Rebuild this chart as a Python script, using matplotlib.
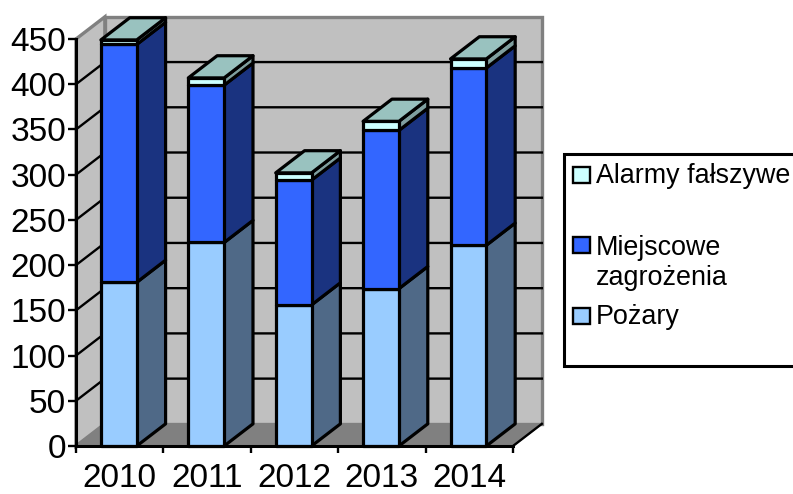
import matplotlib
matplotlib.use('Agg')
import matplotlib.pyplot as plt
from matplotlib.patches import Rectangle

plt.rcParams['font.family'] = ['Liberation Sans', 'DejaVu Sans']

years = ['2010', '2011', '2012', '2013', '2014']
pozary = [181, 225, 156, 174, 222]
miejscowe = [263, 174, 138, 175, 196]
alarmy = [5, 8, 8, 10, 10]
y_ticks = [0, 50, 100, 150, 200, 250, 300, 350, 400, 450]

front_colors = ['#99CCFF', '#3366FF', '#CCFFFF']
side_colors = ['#4F6987', '#1A3380', '#7F9F9F']
top_color = '#99C2BF'

W, H = 793, 494
fig = plt.figure(figsize=(W / 100, H / 100), dpi=100)
ax = fig.add_axes([76 / W, (H - 446) / H, 437 / W, 407 / H])
ax.set_xlim(0, 5)
ax.set_ylim(0, 450)
ax.patch.set_visible(False)

# fake 3d depth, in data units
ddx, ddy = 0.33, 24.5
bar_w = 0.41
bar_shift = -0.01
n = len(years)

# walls and floor
ax.fill([ddx, n + ddx, n + ddx, ddx], [ddy, ddy, 450 + ddy, 450 + ddy],
        fc='#C0C0C0', ec='#808080', lw=2.4, clip_on=False, zorder=1)
ax.fill([0, ddx, ddx, 0], [0, ddy, 450 + ddy, 450], fc='#C0C0C0', ec='#808080',
        lw=2.4, clip_on=False, zorder=1)
ax.fill([0, n, n + ddx, ddx], [0, 0, ddy, ddy], fc='#808080', ec='#808080',
        lw=1, clip_on=False, zorder=1)
ax.plot([n, n + ddx], [0, ddy], color='black', lw=1.7, clip_on=False, zorder=1.5)

# gridlines go along the left wall then the back wall
for v in y_ticks[1:-1]:
    ax.plot([0, ddx, n + ddx], [v, v + ddy, v + ddy], color='black', lw=1.7,
            clip_on=False, zorder=2, solid_joinstyle='miter')

# bars, left to right and bottom to top
for i in range(n):
    x0 = i + (1 - bar_w) / 2 + bar_shift
    x1 = x0 + bar_w
    base = 0
    series = [pozary[i], miejscowe[i], alarmy[i]]
    for j, val in enumerate(series):
        top = base + val
        ax.fill([x1, x1 + ddx, x1 + ddx, x1], [base, base + ddy, top + ddy, top],
                fc=side_colors[j], ec='black', lw=2.3, clip_on=False, zorder=3,
                joinstyle='round')
        ax.fill([x0, x1, x1, x0], [base, base, top, top], fc=front_colors[j],
                ec='black', lw=2.3, clip_on=False, zorder=3, joinstyle='round')
        base = top
    ax.fill([x0, x1, x1 + ddx, x0 + ddx], [base, base, base + ddy, base + ddy],
            fc=top_color, ec='black', lw=2.3, clip_on=False, zorder=3,
            joinstyle='round')

for s in ['top', 'right']:
    ax.spines[s].set_visible(False)
for s in ['left', 'bottom']:
    ax.spines[s].set_linewidth(2.2)
    ax.spines[s].set_zorder(4)

ax.set_yticks(y_ticks)
ax.tick_params(axis='y', labelsize=24, length=6, width=1.7, pad=1)
ax.set_xticks(range(n + 1))
ax.set_xticklabels([])
ax.tick_params(axis='x', which='major', length=5, width=1.7)
ax.set_xticks([i + 0.5 for i in range(n)], minor=True)
ax.set_xticklabels(years, minor=True, fontsize=24)
ax.tick_params(axis='x', which='minor', length=0, pad=12)


def fx(px):
    return px / W


def fy(py):
    return (H - py) / H


# legend box runs off the right edge of the picture
fig.add_artist(Rectangle((fx(564), fy(366)), fx(240), 212 / H, fc='white',
                         ec='black', lw=2.2, transform=fig.transFigure))
legend_rows = [
    ('Alarmy fałszywe', front_colors[2], 167, [183]),
    ('Miejscowe', front_colors[1], 237, [255]),
    ('Pożary', front_colors[0], 308, [324]),
]
for label, color, sw_top, baselines in legend_rows:
    fig.add_artist(Rectangle((fx(573), fy(sw_top + 16)), 17 / W, 16 / H, fc=color,
                             ec='black', lw=1.7, transform=fig.transFigure))
    fig.text(fx(596), fy(baselines[0]), label, fontsize=19.4, va='baseline', ha='left')
fig.text(fx(596), fy(285), 'zagrożenia', fontsize=19.4, va='baseline', ha='left')

fig.savefig('out.png', dpi=100)
